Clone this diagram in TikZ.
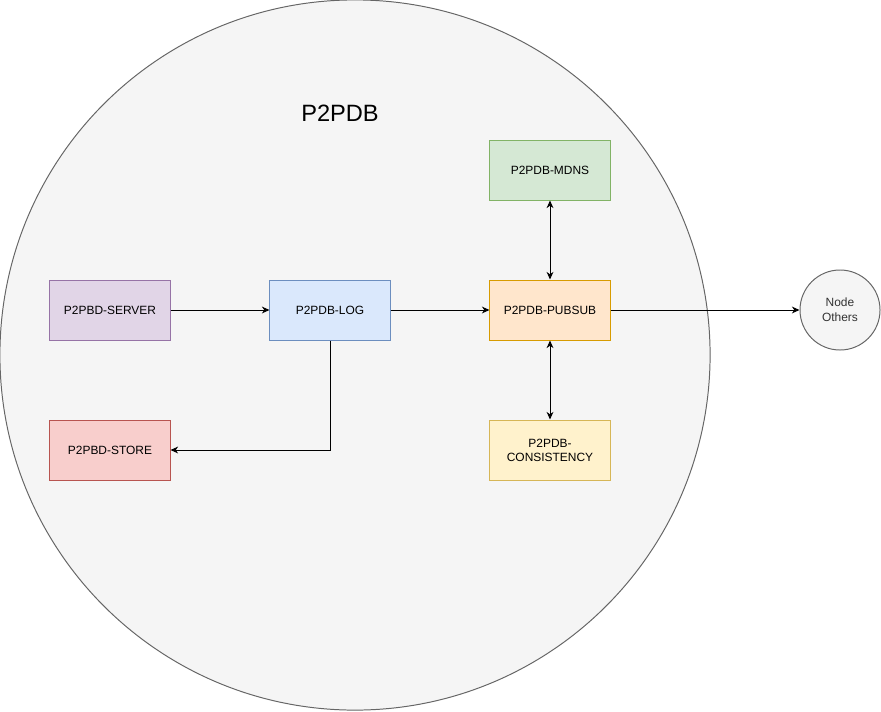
\documentclass[tikz,border=0pt]{standalone}
\usepackage{fontspec}
\setmainfont{Liberation Sans}
\usetikzlibrary{arrows.meta}
\definecolor{ringfill}{HTML}{F5F5F5}
\definecolor{ringline}{HTML}{666666}
\definecolor{othertext}{HTML}{333333}
\definecolor{purplefill}{HTML}{E1D5E7}
\definecolor{purpleline}{HTML}{9673A6}
\definecolor{bluefill}{HTML}{DAE8FC}
\definecolor{blueline}{HTML}{6C8EBF}
\definecolor{orangefill}{HTML}{FFE6CC}
\definecolor{orangeline}{HTML}{D79B00}
\definecolor{greenfill}{HTML}{D5E8D4}
\definecolor{greenline}{HTML}{82B366}
\definecolor{yellowfill}{HTML}{FFF2CC}
\definecolor{yellowline}{HTML}{D6B656}
\definecolor{redfill}{HTML}{F8CECC}
\definecolor{redline}{HTML}{B85450}
\tikzset{
  module/.style={draw, line width=0.7pt, minimum width=3cm, minimum height=1.5cm,
    align=center, inner sep=1pt, font=\fontsize{8.5}{10}\selectfont},
  link/.style={line width=0.7pt, -{Stealth[length=1.9mm,width=1.7mm,inset=0.6mm]}},
  twoway/.style={line width=0.7pt, {Stealth[length=1.9mm,width=1.7mm,inset=0.6mm]}-{Stealth[length=1.9mm,width=1.7mm,inset=0.6mm]}}
}
\begin{document}
\begin{tikzpicture}[x=0.025cm,y=-0.025cm]
        \useasboundingbox (0,0) rectangle (881,711);
        %% Ring
        \node[circle, draw=ringline, fill=ringfill, line width=0.7pt, minimum size=17.75cm, inner sep=0pt] (ring) at (355,355) {};
        \node[font=\fontsize{16.8}{19}\selectfont] (title) at (340,113) {P2PDB};
        %% Modules
        \node[module, draw=purpleline, fill=purplefill] (server) at (110,310) {P2PBD-SERVER};
        \node[module, draw=blueline, fill=bluefill] (log) at (330,310) {P2PDB-LOG};
        \node[module, draw=orangeline, fill=orangefill] (pubsub) at (550,310) {P2PDB-PUBSUB};
        \node[module, draw=greenline, fill=greenfill] (mdns) at (550,170) {P2PDB-MDNS};
        \node[module, draw=yellowline, fill=yellowfill] (consistency) at (550,450) {P2PDB-\\CONSISTENCY};
        \node[module, draw=redline, fill=redfill] (store) at (110,450) {P2PBD-STORE};
        %% Other node
        \node[circle, draw=ringline, fill=ringfill, line width=0.7pt, minimum size=2cm, inner sep=0pt,
          align=center, text=othertext, font=\fontsize{8.5}{10.5}\selectfont] (others) at (840,310) {Node\\Others};
        %% Links
        \draw[link] (server) -- (log);
        \draw[link] (log) -- (pubsub);
        \draw[link] (log.south) |- (store.east);
        \draw[twoway] (mdns) -- (pubsub);
        \draw[twoway] (pubsub) -- (consistency);
        \draw[link] (pubsub) -- (others);
\end{tikzpicture}
\end{document}
